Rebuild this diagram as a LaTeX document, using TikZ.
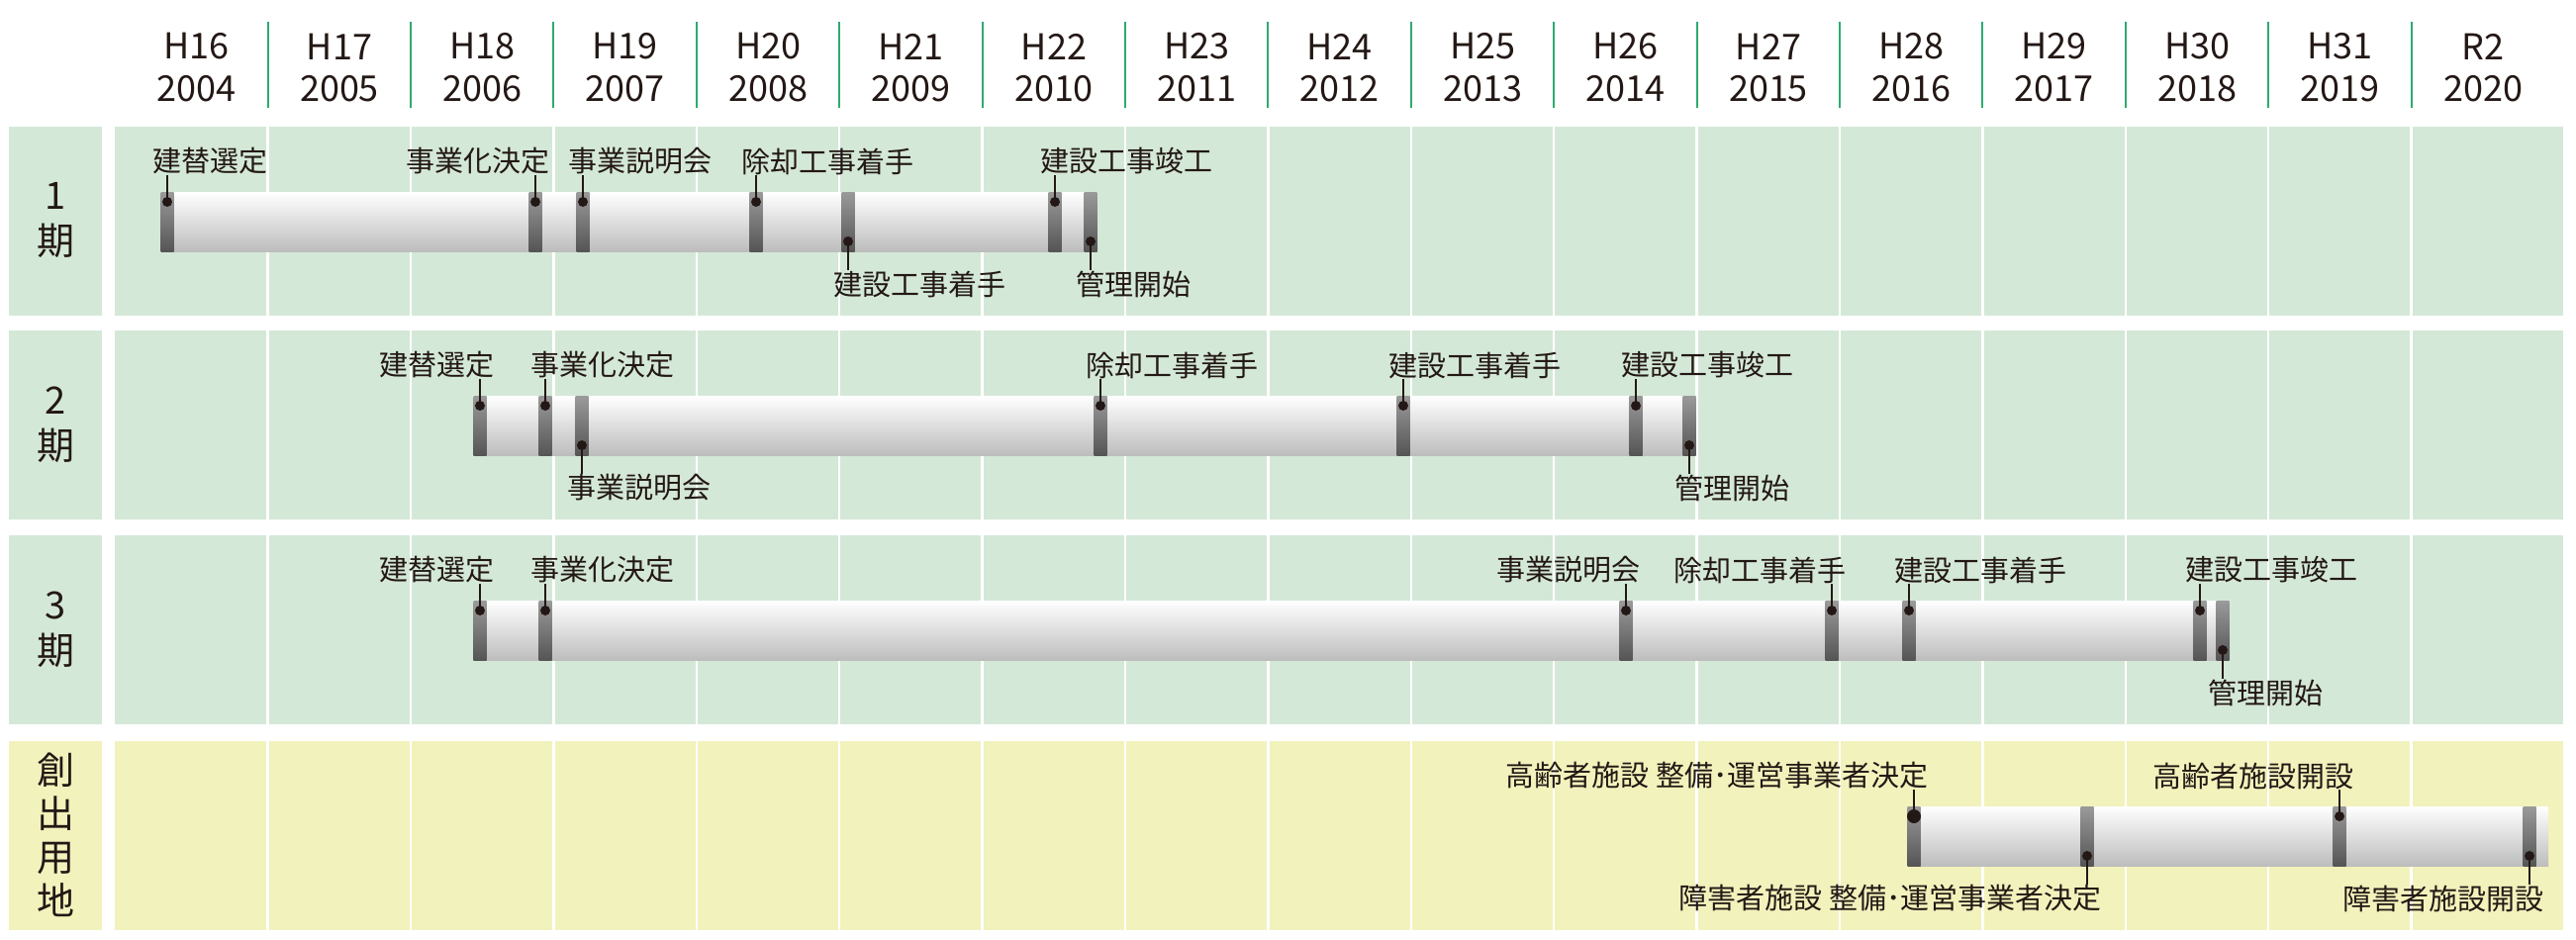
\documentclass[tikz,border=0pt]{standalone}
\usepackage{fontspec}
\setmainfont{Noto Sans CJK JP}
\definecolor{pgreen}{HTML}{D4E8D7}
\definecolor{pyellow}{HTML}{F2F2BC}
\definecolor{hline}{HTML}{2EAA6E}
\definecolor{mkTop}{HTML}{9A9A9A}
\definecolor{mkBot}{HTML}{555555}
\definecolor{barBot}{HTML}{BDBDBD}
\definecolor{txt}{HTML}{231815}
\tikzset{
 lbl/.style={inner sep=0pt,font=\fontsize{29}{31}\selectfont,text=txt},
 yr/.style={inner sep=0pt,font=\fontsize{36}{38}\selectfont,text=txt},
 rowlbl/.style={inner sep=0pt,font=\fontsize{38}{46}\selectfont,text=txt,align=center},
 gridline/.style={white,line width=2.5pt},
 leader/.style={txt,line width=1.6pt},
}
% \mtop{name}{x}{rowtop}{anchor}{dx}{text}
\newcommand{\mtop}[6]{%
 \shade[top color=mkTop,bottom color=mkBot] ({#2-6.5},{#3+66}) rectangle ({#2+6.5},{#3+126});
 \node[lbl,anchor=#4] (#1) at ({#2+#5},{#3+35}) {#6};
 \coordinate (#1d) at (#2,{#3+76});
 \fill[txt] (#1d) circle (5pt);
 \draw[leader] (#1d) -- (#1.south -| #1d);}
\newcommand{\mbot}[6]{%
 \shade[top color=mkTop,bottom color=mkBot] ({#2-6.5},{#3+66}) rectangle ({#2+6.5},{#3+126});
 \node[lbl,anchor=#4] (#1) at ({#2+#5},{#3+159}) {#6};
 \coordinate (#1d) at (#2,{#3+116});
 \fill[txt] (#1d) circle (5pt);
 \draw[leader] (#1d) -- (#1.north -| #1d);}
\newcommand{\tbar}[3]{\shade[top color=white,bottom color=barBot] (#1,{#3+66}) rectangle (#2,{#3+126});}
\begin{document}
\begin{tikzpicture}[x=1pt,y=-1pt]
\useasboundingbox (0,0) rectangle (2603,950);
% header
\foreach \h/\y [count=\i from 0] in {H16/2004,H17/2005,H18/2006,H19/2007,H20/2008,H21/2009,H22/2010,H23/2011,H24/2012,H25/2013,H26/2014,H27/2015,H28/2016,H29/2017,H30/2018,H31/2019,R2/2020}{
 \pgfmathsetmacro\cx{198.6+144.4*\i}
 \node[yr] (h\i) at (\cx,47) {\h};
 \node[yr] (y\i) at (\cx,90) {\y};
}
\foreach \k in {0,...,15}{\draw[hline,line width=2pt] ({270.6+144.4*\k},22) -- ({270.6+144.4*\k},109);}
% panels
\foreach \t/\c in {128/pgreen,334/pgreen,541/pgreen,749/pyellow}{
 \fill[\c] (9,\t) rectangle (103,{\t+191});
 \fill[\c] (116,\t) rectangle (2590,{\t+191});
 \foreach \k in {0,...,15}{\draw[gridline] ({270.6+144.4*\k},\t) -- ({270.6+144.4*\k},{\t+191});}
}
\node[rowlbl] (r1) at (56,223) {1\\期};
\node[rowlbl] (r2) at (56,429) {2\\期};
\node[rowlbl] (r3) at (56,636) {3\\期};
\node[rowlbl,font=\fontsize{38}{44}\selectfont] (r4) at (56,844) {創\\出\\用\\地};
% row 1
\tbar{163}{1109}{128}
\mtop{a1}{169}{128}{west}{-15}{建替選定}
\mtop{a2}{541}{128}{east}{15}{事業化決定}
\mtop{a3}{589}{128}{west}{-15}{事業説明会}
\mtop{a4}{764}{128}{west}{-15}{除却工事着手}
\mbot{a5}{857}{128}{west}{-15}{建設工事着手}
\mtop{a6}{1066}{128}{west}{-15}{建設工事竣工}
\mbot{a7}{1102}{128}{west}{-15}{管理開始}
% row 2
\tbar{478}{1713}{334}
\mtop{b1}{485}{334}{east}{15}{建替選定}
\mtop{b2}{551}{334}{west}{-15}{事業化決定}
\mbot{b3}{588}{334}{west}{-15}{事業説明会}
\mtop{b4}{1112}{334}{west}{-15}{除却工事着手}
\mtop{b5}{1418}{334}{west}{-15}{建設工事着手}
\mtop{b6}{1653}{334}{west}{-15}{建設工事竣工}
\mbot{b7}{1707}{334}{west}{-15}{管理開始}
% row 3
\tbar{478}{2253}{541}
\mtop{c1}{485}{541}{east}{15}{建替選定}
\mtop{c2}{551}{541}{west}{-15}{事業化決定}
\mtop{c3}{1643}{541}{east}{15}{事業説明会}
\mtop{c4}{1851}{541}{east}{15}{除却工事着手}
\mtop{c5}{1929}{541}{west}{-15}{建設工事着手}
\mtop{c6}{2223}{541}{west}{-15}{建設工事竣工}
\mbot{c7}{2246}{541}{west}{-15}{管理開始}
% row 4
\tbar{1928}{2575}{749}
\mtop{d1}{1934}{749}{east}{15}{高齢者施設 整備･運営事業者決定}
\fill[txt] (d1d) circle (7pt);
\mbot{d2}{2109}{749}{east}{15}{障害者施設 整備･運営事業者決定}
\mtop{d3}{2364}{749}{east}{15}{高齢者施設開設}
\mbot{d4}{2556}{749}{east}{15}{障害者施設開設}
\end{tikzpicture}
\end{document}
